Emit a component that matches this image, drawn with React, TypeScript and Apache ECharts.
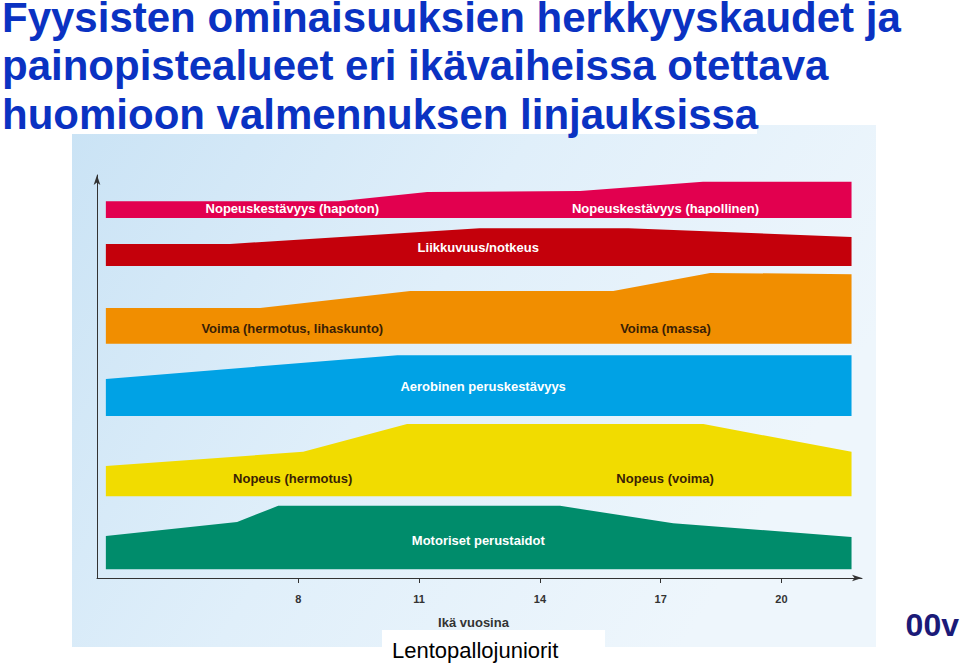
import React, { useEffect, useRef } from "react";
import * as echarts from "echarts";

const TITLE_LINES = [
  "Fyysisten ominaisuuksien herkkyyskaudet ja",
  "painopistealueet eri ikävaiheissa otettava",
  "huomioon valmennuksen linjauksissa",
];
const AGE_TICKS = [8, 11, 14, 17, 20];
const X_NAME = "Ikä vuosina";
const FOOTER = "Lentopallojuniorit";
const LOGO = "00v";

// Band: Nopeuskestävyys
const speedEnduranceAges = [3.22, 9.0, 11.2, 15.0, 18.05, 21.74];
const speedEnduranceTop = [93.5, 93.5, 95.8, 96.0, 98.3, 98.3];
const speedEnduranceBase = 89.3;
const speedEnduranceLabels = ["Nopeuskestävyys (hapoton)", "Nopeuskestävyys (hapollinen)"];
const speedEnduranceLabelAges = [7.85, 17.12];
const speedEnduranceLabelLevel = 91.6;

// Band: Liikkuvuus/notkeus
const mobilityAges = [3.22, 6.3, 12.5, 16.2, 21.74];
const mobilityTop = [82.9, 82.9, 86.8, 86.8, 84.6];
const mobilityBase = 77.4;
const mobilityLabels = ["Liikkuvuus/notkeus"];
const mobilityLabelAges = [12.47];
const mobilityLabelLevel = 82.1;

// Band: Voima
const strengthAges = [3.22, 7.05, 10.78, 15.82, 18.23, 21.74];
const strengthTop = [67.0, 67.0, 71.2, 71.2, 75.7, 75.4];
const strengthBase = 58.1;
const strengthLabels = ["Voima (hermotus, lihaskunto)", "Voima (massa)"];
const strengthLabelAges = [7.85, 17.12];
const strengthLabelLevel = 62.0;

// Band: Aerobinen peruskestävyys
const aerobicAges = [3.22, 10.46, 21.74];
const aerobicTop = [49.4, 55.3, 55.3];
const aerobicBase = 40.2;
const aerobicLabels = ["Aerobinen peruskestävyys"];
const aerobicLabelAges = [12.59];
const aerobicLabelLevel = 47.4;

// Band: Nopeus
const speedAges = [3.22, 8.12, 10.7, 18.06, 21.74];
const speedTop = [27.8, 31.3, 38.2, 38.2, 31.3];
const speedBase = 20.3;
const speedLabels = ["Nopeus (hermotus)", "Nopeus (voima)"];
const speedLabelAges = [7.86, 17.11];
const speedLabelLevel = 24.6;

// Band: Motoriset perustaidot
const motorAges = [3.22, 6.48, 7.5, 14.5, 17.31, 21.74];
const motorTop = [10.4, 13.9, 17.9, 17.9, 13.6, 10.2];
const motorBase = 2.2;
const motorLabels = ["Motoriset perustaidot"];
const motorLabelAges = [12.47];
const motorLabelLevel = 9.4;

const FONT = "'Liberation Sans', Arial, Helvetica, sans-serif";

function makeBand(
  name: string,
  ages: number[],
  tops: number[],
  base: number,
  color: string,
  labels: string[],
  labelAges: number[],
  labelLevel: number,
  labelColor: string
) {
  return {
    type: "custom",
    name,
    data: ages.map((a, i) => [a, tops[i]]),
    encode: { x: 0, y: 1 },
    silent: true,
    renderItem: (params: any, api: any) => {
      if (params.dataIndex !== 0) return null;
      const pts = ages.map((a, i) => api.coord([a, tops[i]]));
      pts.push(api.coord([ages[ages.length - 1], base]));
      pts.push(api.coord([ages[0], base]));
      const children: any[] = [
        { type: "polygon", shape: { points: pts }, style: { fill: color } },
      ];
      labels.forEach((t, i) => {
        const p = api.coord([labelAges[i], labelLevel]);
        children.push({
          type: "text",
          x: p[0],
          y: p[1],
          style: {
            text: t,
            fill: labelColor,
            fontSize: 13,
            fontWeight: "bold",
            fontFamily: FONT,
            align: "center",
            verticalAlign: "middle",
          },
        });
      });
      return { type: "group", children };
    },
  };
}

export default function App() {
  const ref = useRef<HTMLDivElement>(null);
  useEffect(() => {
    if (!ref.current) return;
    const chart = echarts.init(ref.current, undefined, { renderer: "svg" });
    const axisColor = "#333333";
    chart.setOption({
      animation: false,
      backgroundColor: "#ffffff",
      grid: { left: 97, right: 98, top: 175, bottom: 86, containLabel: false },
      xAxis: {
        type: "value",
        min: 3,
        max: 22,
        axisLine: {
          show: true,
          lineStyle: { color: axisColor, width: 1 },
          symbol: ["none", "arrow"],
          symbolSize: [5, 10],
        },
        axisTick: {
          show: true,
          customValues: AGE_TICKS,
          length: 5,
          lineStyle: { color: axisColor },
        },
        axisLabel: {
          customValues: AGE_TICKS,
          margin: 15,
          fontSize: 11,
          color: axisColor,
          fontFamily: FONT,
          fontWeight: "bold",
        },
        splitLine: { show: false },
        name: X_NAME,
        nameLocation: "middle",
        nameGap: 38,
        nameTextStyle: {
          fontSize: 13,
          fontWeight: "bold",
          color: axisColor,
          fontFamily: FONT,
          padding: [0, 12, 0, 0],
        },
      },
      yAxis: {
        type: "value",
        min: 0,
        max: 100,
        axisLine: {
          show: true,
          lineStyle: { color: axisColor, width: 1 },
          symbol: ["none", "arrow"],
          symbolSize: [5, 10],
        },
        axisTick: { show: false },
        axisLabel: { show: false },
        splitLine: { show: false },
      },
      graphic: [
        {
          type: "rect",
          z: -100,
          shape: { x: 72, y: 125, width: 804, height: 522 },
          style: {
            fill: new echarts.graphic.LinearGradient(0, 0, 1, 0.4, [
              { offset: 0, color: "#cae3f5" },
              { offset: 0.5, color: "#e0effa" },
              { offset: 1, color: "#eef6fc" },
            ]),
          },
        },
        {
          type: "rect",
          z: -90,
          shape: { x: 0, y: 0, width: 757, height: 134 },
          style: { fill: "#ffffff" },
        },
        ...TITLE_LINES.map((t, i) => ({
          type: "text",
          z: 100,
          x: 2,
          y: i * 48.5,
          style: {
            text: t,
            fill: "#0a32c2",
            fontSize: 42,
            lineHeight: 34,
            fontWeight: "bold",
            fontFamily: FONT,
            align: "left",
            verticalAlign: "top",
          },
        })),
        {
          type: "rect",
          z: 100,
          shape: { x: 382, y: 630, width: 223, height: 34 },
          style: { fill: "#ffffff" },
        },
        {
          type: "text",
          z: 101,
          x: 392,
          y: 639,
          style: {
            text: FOOTER,
            fill: "#000000",
            fontSize: 22,
            fontFamily: FONT,
            align: "left",
            verticalAlign: "top",
          },
        },
        {
          type: "text",
          z: 100,
          x: 959,
          y: 609,
          style: {
            text: LOGO,
            fill: "#1b1a78",
            fontSize: 32,
            fontWeight: "bold",
            fontFamily: FONT,
            align: "right",
            verticalAlign: "top",
          },
        },
        {
          type: "rect",
          z: 101,
          shape: { x: 876, y: 600, width: 28, height: 50 },
          style: { fill: "#ffffff" },
        },
      ],
      series: [
        makeBand("Nopeuskestävyys", speedEnduranceAges, speedEnduranceTop, speedEnduranceBase, "#e2004f",
          speedEnduranceLabels, speedEnduranceLabelAges, speedEnduranceLabelLevel, "#ffffff"),
        makeBand("Liikkuvuus/notkeus", mobilityAges, mobilityTop, mobilityBase, "#c4000b",
          mobilityLabels, mobilityLabelAges, mobilityLabelLevel, "#ffffff"),
        makeBand("Voima", strengthAges, strengthTop, strengthBase, "#f18e00",
          strengthLabels, strengthLabelAges, strengthLabelLevel, "#3a1f05"),
        makeBand("Aerobinen peruskestävyys", aerobicAges, aerobicTop, aerobicBase, "#00a2e5",
          aerobicLabels, aerobicLabelAges, aerobicLabelLevel, "#ffffff"),
        makeBand("Nopeus", speedAges, speedTop, speedBase, "#f1dc00",
          speedLabels, speedLabelAges, speedLabelLevel, "#3a1f05"),
        makeBand("Motoriset perustaidot", motorAges, motorTop, motorBase, "#008c6b",
          motorLabels, motorLabelAges, motorLabelLevel, "#ffffff"),
      ],
    });
    return () => chart.dispose();
  }, []);
  return (
    <div
      ref={ref}
      style={{ position: "fixed", left: 0, top: 0, width: 960, height: 664 }}
    />
  );
}
